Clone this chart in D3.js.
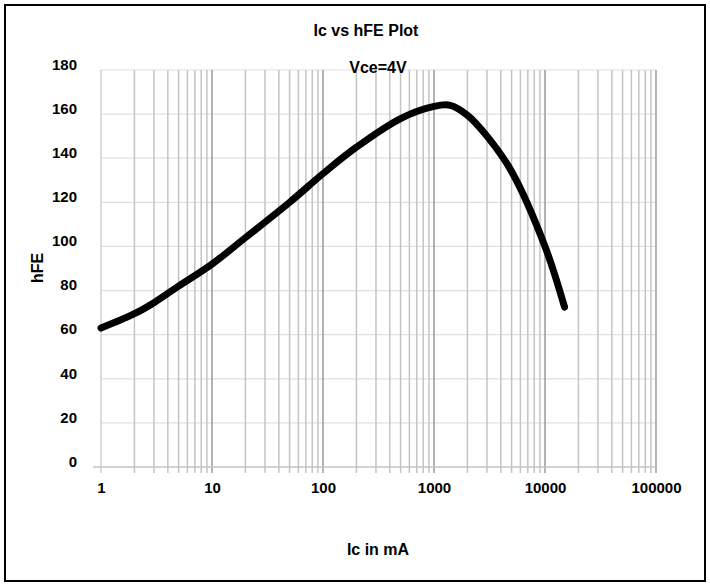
<!DOCTYPE html>
<html>
<head>
<meta charset="utf-8">
<script src="https://cdn.jsdelivr.net/npm/d3@7"></script>
<style>
  body { margin: 0; background: #fff; }
  text { font-family: "Liberation Sans Narrow", "Liberation Sans", Arial, sans-serif; font-weight: bold; fill: #000; }
</style>
</head>
<body>
<div id="chart"></div>
<script>
// collector current (mA) and gain
var icValues = [1, 2, 3, 5, 10, 20, 50, 100, 200, 500, 1000, 1400, 2000, 3000, 5000, 10000, 15000];
var hfeValues = [63, 69.5, 74.5, 82, 92, 104, 120, 133, 145, 158, 163.5, 164, 159.5, 150, 134, 100, 72.5];
var xTicks = [1, 10, 100, 1000, 10000, 100000];
var yTicks = [0, 20, 40, 60, 80, 100, 120, 140, 160, 180];

var W = 710, H = 586;
var margin = {top: 70, right: 54, bottom: 119, left: 101},
    width = W - margin.left - margin.right,
    height = H - margin.top - margin.bottom;

var fontFam = "Liberation Sans Narrow, Liberation Sans, Arial, sans-serif";

var svg = d3.select("#chart")
    .append("svg")
    .attr("width", W)
    .attr("height", H);

// outer frame
svg.append("rect")
    .attr("x", 5).attr("y", 5)
    .attr("width", W - 10).attr("height", H - 10)
    .attr("fill", "none")
    .attr("stroke", "#000")
    .attr("stroke-width", 2);

var g = svg.append("g")
    .attr("transform", "translate(" + margin.left + "," + margin.top + ")");

var x = d3.scaleLog()
    .domain([1, 100000])
    .range([0, width]);

var y = d3.scaleLinear()
    .domain([0, 180])
    .range([height, 0]);

// horizontal grid
g.append("g")
    .selectAll("line")
    .data(yTicks.filter(function (d) { return d > 0; }))
    .enter()
    .append("line")
    .attr("x1", 0).attr("x2", width)
    .attr("y1", function (d) { return y(d); })
    .attr("y2", function (d) { return y(d); })
    .attr("stroke", "#e0e0e0")
    .attr("stroke-width", 1.2);

// vertical grid, 1..9 per decade
var minor = x.ticks().filter(function (d) { return d > 1; });
g.append("g")
    .selectAll("line")
    .data(minor)
    .enter()
    .append("line")
    .attr("x1", function (d) { return x(d); })
    .attr("x2", function (d) { return x(d); })
    .attr("y1", 0).attr("y2", height + 6)
    .attr("stroke", function (d) {
        return xTicks.indexOf(d) >= 0 ? "#9a9a9a" : "#c4c4c4";
    })
    .attr("stroke-width", 1.5);

// left edge + bottom axis line
g.append("line")
    .attr("x1", 0).attr("x2", 0)
    .attr("y1", 0).attr("y2", height + 6)
    .attr("stroke", "#c4c4c4").attr("stroke-width", 1.2);
g.append("line")
    .attr("x1", -8).attr("x2", width)
    .attr("y1", height).attr("y2", height)
    .attr("stroke", "#c4c4c4").attr("stroke-width", 1.5);

// y axis labels
var yAxis = d3.axisLeft(y).tickValues(yTicks).tickSize(0).tickPadding(24);
g.append("g")
    .call(yAxis)
    .call(function (s) { s.select(".domain").remove(); })
    .selectAll("text")
    .attr("dy", "-0.05em")
    .style("font-size", "15px")
    .style("font-family", fontFam);

// x axis labels
var xAxis = d3.axisBottom(x).tickValues(xTicks).tickFormat(d3.format("d")).tickSize(0).tickPadding(15);
g.append("g")
    .attr("transform", "translate(0," + height + ")")
    .call(xAxis)
    .call(function (s) { s.select(".domain").remove(); })
    .selectAll("text")
    .style("font-size", "15px")
    .style("font-family", fontFam);

// curve
var pts = icValues.map(function (d, i) { return [d, hfeValues[i]]; });
var line = d3.line()
    .x(function (d) { return x(d[0]); })
    .y(function (d) { return y(d[1]); })
    .curve(d3.curveCatmullRom.alpha(0.5));

g.append("path")
    .datum(pts)
    .attr("d", line)
    .attr("fill", "none")
    .attr("stroke", "#000")
    .attr("stroke-width", 7)
    .attr("stroke-linecap", "round")
    .attr("stroke-linejoin", "round");

// titles
svg.append("text")
    .attr("x", 366).attr("y", 36)
    .attr("text-anchor", "middle")
    .style("font-size", "16px")
    .text("Ic vs hFE Plot");

svg.append("text")
    .attr("x", 378).attr("y", 73)
    .attr("text-anchor", "middle")
    .style("font-size", "16px")
    .text("Vce=4V");

svg.append("text")
    .attr("x", 378).attr("y", 555)
    .attr("text-anchor", "middle")
    .style("font-size", "16px")
    .text("Ic in mA");

svg.append("text")
    .attr("transform", "translate(43,268) rotate(-90)")
    .attr("text-anchor", "middle")
    .style("font-size", "16px")
    .text("hFE");
</script>
</body>
</html>
